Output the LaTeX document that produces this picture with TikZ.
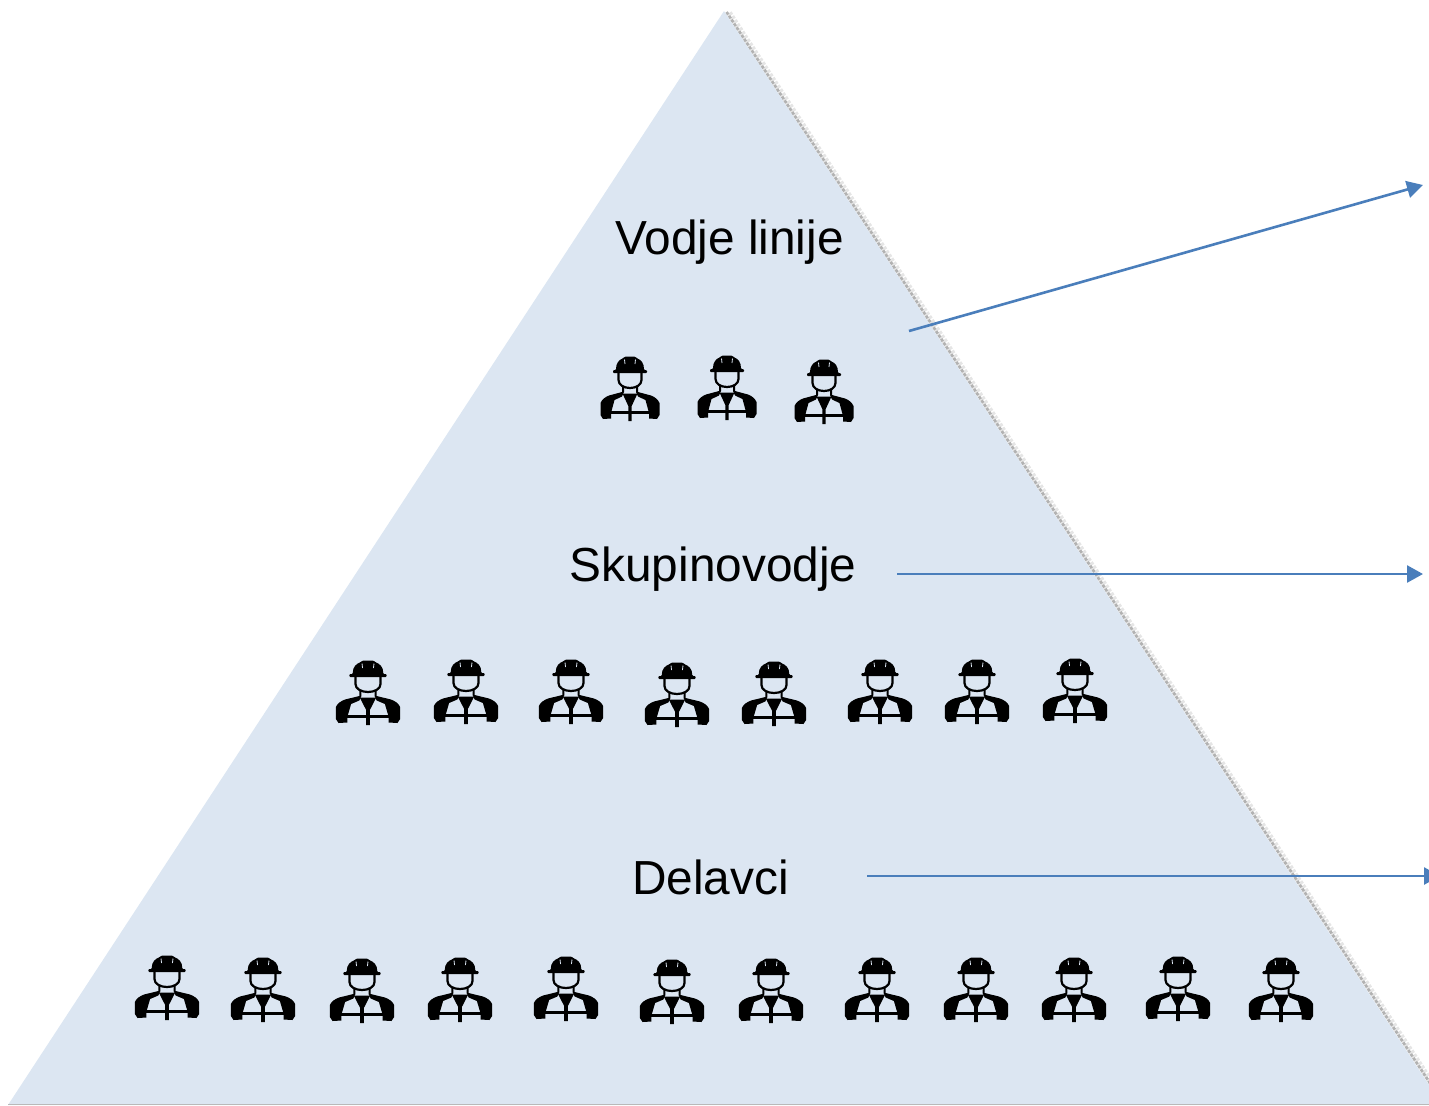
\documentclass[tikz,border=0pt]{standalone}
\usepackage{fontspec}
\setmainfont{Liberation Sans}
\usetikzlibrary{arrows.meta}
\definecolor{pyramidfill}{HTML}{DCE6F2}
\definecolor{arrowblue}{HTML}{4A7EBB}

\begin{document}
\begin{tikzpicture}[x=0.5pt,y=-0.5pt,
    tier/.style={font=\fontsize{23.9}{28}\selectfont,text=black,inner sep=0pt},
    pointer/.style={draw=arrowblue,line width=1.3pt,-{Triangle[length=8pt,width=8.5pt]}},
    wide/.style={xscale=1.09},
    worker/.pic={
      % helmet
      \fill[black,rounded corners=0.5pt] (-17,-19) -- (-14,-19) .. controls (-14,-26) and (-11,-29) .. (-6.5,-31)
        -- (-5,-32.5) -- (5,-32.5) -- (6.5,-31) .. controls (11,-29) and (14,-26) .. (14,-19)
        -- (17,-19) -- (17,-16) -- (-17,-16) -- cycle;
      \draw[pyramidfill,line width=0.4pt] (-5.5,-29.5) -- (-5,-25) (5.5,-29.5) -- (5,-25);
      % face
      \draw[black,line width=1.1pt] (-11.5,-16) -- (-11.5,-9) .. controls (-11.5,-4) and (-6,-1) .. (0,-1)
        .. controls (6,-1) and (11.5,-4) .. (11.5,-9) -- (11.5,-16);
      % vest
      \foreach \side in {1,-1} {
        \fill[black,xscale=\side] (-8,-3) -- (-6,-2) -- (-6,3) -- (-8,7.5) -- (-15.5,11) -- (-19,24)
          -- (-19,29.5) -- (-27,30) -- (-29.5,26) -- (-29.5,14) .. controls (-28,10.5) and (-25,8) .. (-21,6.5)
          -- (-8,3) -- cycle;
      }
      \fill[black] (-7.5,4.5) -- (7.5,4.5) -- (1.7,17) -- (1.7,32) -- (-1.7,32) -- (-1.7,17) -- cycle;
      \fill[black] (-19.5,21.5) rectangle (19.5,25);
    }]
  \clip (0,0) rectangle (1429,1105);

  % soft edge on the right side
  \draw[gray!20,line width=3pt,dash pattern=on 1.5pt off 0.8pt] (729,13) -- (1437,1091);
  \draw[gray!60,line width=1.4pt,dash pattern=on 1.5pt off 0.8pt] (726.5,12) -- (1434.5,1090);
  \fill[pyramidfill] (724,11) -- (1429,1085) -- (1429,1105) -- (8,1105) -- cycle;
  \draw[gray!55,line width=0.6pt] (8,1104.5) -- (1429,1104.5);

  \node[tier] (vodje) at (729.5,242) {Vodje linije};
  \node[tier] (skupino) at (713,569) {Skupinovodje};
  \node[tier] (delavci) at (710.5,877) {Delavci};

  \coordinate (vodjeout) at (909,331);
  \coordinate (vodjeend) at (1423,185);
  \coordinate (skupinoout) at (897,574);
  \coordinate (skupinoend) at (1423,574);
  \coordinate (delavciout) at (867,876);
  \coordinate (delavciend) at (1440,876);

  \draw[pointer] (vodjeout) -- (vodjeend);
  \draw[pointer] (skupinoout) -- (skupinoend);
  \draw[pointer] (delavciout) -- (delavciend);

  \pic (lead1) at (630,389) {worker};
  \pic (lead2) at (727,388) {worker};
  \pic (lead3) at (824,392) {worker};

  \pic (group1) at (368,693) [wide] {worker};
  \pic (group2) at (466,692) [wide] {worker};
  \pic (group3) at (571,692) [wide] {worker};
  \pic (group4) at (677,695) [wide] {worker};
  \pic (group5) at (774,694) [wide] {worker};
  \pic (group6) at (880,692) [wide] {worker};
  \pic (group7) at (977,692) [wide] {worker};
  \pic (group8) at (1075,691) [wide] {worker};

  \pic (hand1) at (167,988) [wide] {worker};
  \pic (hand2) at (263,990) [wide] {worker};
  \pic (hand3) at (362,991) [wide] {worker};
  \pic (hand4) at (460,990) [wide] {worker};
  \pic (hand5) at (566,989) [wide] {worker};
  \pic (hand6) at (672,992) [wide] {worker};
  \pic (hand7) at (771,991) [wide] {worker};
  \pic (hand8) at (877,990) [wide] {worker};
  \pic (hand9) at (976,990) [wide] {worker};
  \pic (hand10) at (1074,990) [wide] {worker};
  \pic (hand11) at (1178,989) [wide] {worker};
  \pic (hand12) at (1281,990) [wide] {worker};
\end{tikzpicture}
\end{document}
